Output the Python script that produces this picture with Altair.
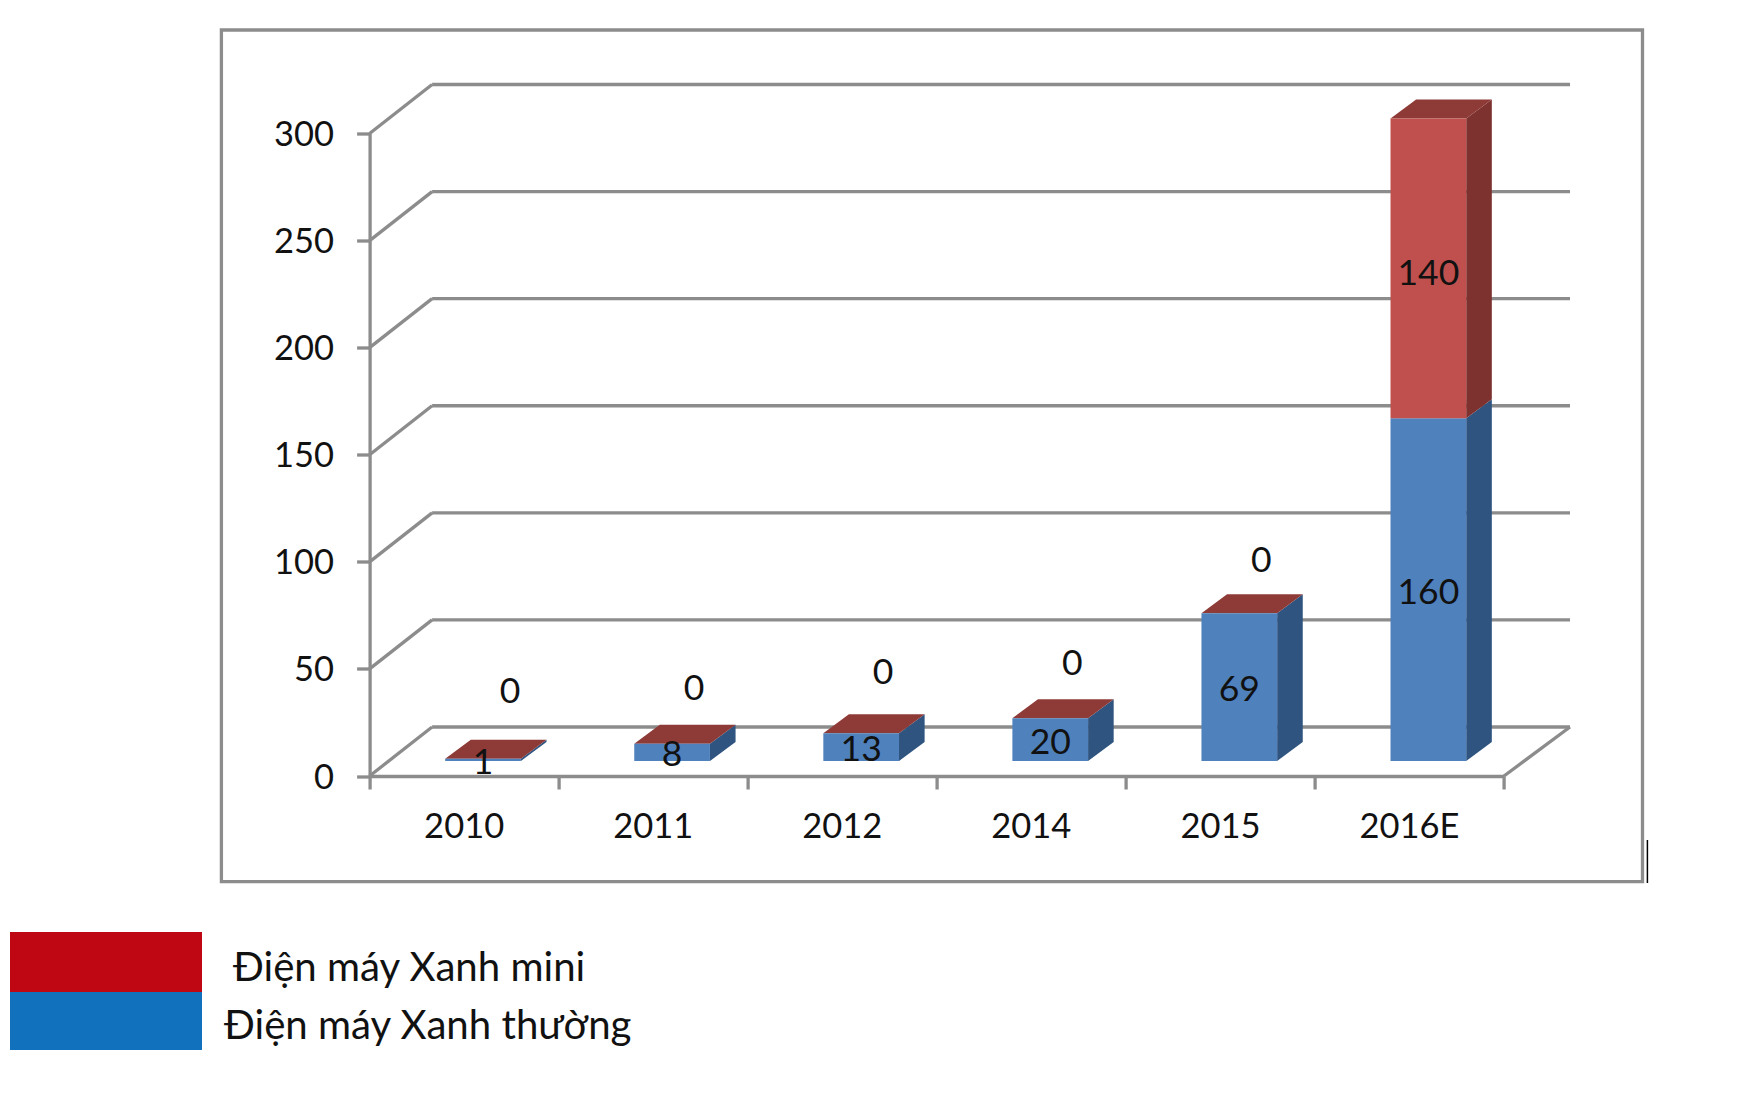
import altair as alt
import pandas as pd

# ---- data ----
categories = ["2010", "2011", "2012", "2014", "2015", "2016E"]
thuong = [1, 8, 13, 20, 69, 160]
mini = [0, 0, 0, 0, 0, 140]
y_ticks = [0, 50, 100, 150, 200, 250, 300]
legend_labels = ["Điện máy Xanh mini", "Điện máy Xanh thường"]

# ---- layout (page pixels) ----
PW, PH = 1134.4, 642.5
X0, Y0 = 369.6, 776.0          # page position of x=0, y=0
CAT = PW / 6
UNIT = PH / 300
def xd(px): return (px - X0) / CAT
def yd(px): return (Y0 - px) / UNIT

FONT = "Lato"
GREY = "#8c8c8c"
FS = 35.5
AXIS_FS = 34.5
LW = 3.3
BACK_DX_L, BACK_DX_R, BACK_DY = 62.5 / CAT, 66 / CAT, 49 / UNIT  # depth of the floor
FRONT_DX, FRONT_DY = 18.9 / CAT, 15 / UNIT # bar front inside floor
BAR_DX, BAR_DY = 25.6 / CAT, 19 / UNIT     # bar depth
BAR_HALF = 37.85 / CAT
# how far each empty "0" label floats above its bar (px), and sideways
zero_nudge_up = [70, 58, 63, 57, 55]
zero_nudge_x = [27, 22, 22, 22, 22]

SX = alt.Scale(domain=[0, 6], nice=False, zero=False)
SY = alt.Scale(domain=[0, 300], nice=False, zero=False)
label_expr = "datum.value < 6 ? " + str(categories) + "[datum.value] : ''"
AX = alt.Axis(values=list(range(7)), labelExpr=label_expr,
              labelOffset=CAT / 2 - 0.5, labelPadding=21, labelFontSize=AXIS_FS, labelFont=FONT,
              labelColor="#111", labelAlign="center", labelBaseline="top", labelFlush=False,
              labelOverlap=False, labelBound=False,
              domainColor=GREY, domainWidth=LW, tickColor=GREY, tickWidth=LW, tickSize=13, grid=False)
AY = alt.Axis(values=y_ticks, labelPadding=23, labelFontSize=AXIS_FS, labelFont=FONT, labelColor="#111",
              labelOffset=2,
              domainColor=GREY, domainWidth=LW, tickColor=GREY, tickWidth=LW, tickSize=13, grid=False,
              labelOverlap=False, labelBound=False, labelFlush=False)
def X(f="x", **k): return alt.X(f, type="quantitative", scale=SX, title=None, axis=AX, **k)
def Y(f="y", **k): return alt.Y(f, type="quantitative", scale=SY, title=None, axis=AY, **k)

# ---- frame + wall lines ----
frame = alt.Chart(pd.DataFrame([{
    "x": xd(221.4), "x2": xd(1642.5), "y": yd(30), "y2": yd(881.7)}])).mark_rect(
    fillOpacity=0, stroke=GREY, strokeWidth=LW).encode(
    x=X(), x2="x2:Q", y=Y(), y2="y2:Q")

segs = []
for v in y_ticks:
    segs.append({"x": 0, "x2": BACK_DX_L, "y": v, "y2": v + BACK_DY})
    segs.append({"x": BACK_DX_L, "x2": 6 + BACK_DX_R, "y": v + BACK_DY, "y2": v + BACK_DY})
segs.append({"x": 6, "x2": 6 + BACK_DX_R, "y": 0, "y2": BACK_DY})
walls = alt.Chart(pd.DataFrame(segs)).mark_rule(color=GREY, strokeWidth=LW).encode(
    x=X(), x2="x2:Q", y=Y(), y2="y2:Q")

# ---- bars ----
fronts, sides, tops, texts = [], [], [], []
for i, (a, b) in enumerate(zip(thuong, mini)):
    left = i + 0.5 + FRONT_DX - BAR_HALF
    right = i + 0.5 + FRONT_DX + BAR_HALF
    centre = i + 0.5 + FRONT_DX
    base = FRONT_DY
    parts = [(0, a, "#4f81bd", "#2f5480")]
    if b:
        parts.append((a, a + b, "#c0504d", "#7e322f"))
    for j, (lo, hi, c_front, c_side) in enumerate(parts):
        fronts.append({"x": left, "x2": right, "y": base + lo, "y2": base + hi, "c": c_front})
        sides.append({"id": f"{i}-{j}", "x": right, "y": base + lo, "y2": base + hi, "c": c_side})
        sides.append({"id": f"{i}-{j}", "x": right + BAR_DX, "y": base + lo + BAR_DY, "y2": base + hi + BAR_DY, "c": c_side})
    top = base + a + b
    tops.append({"id": str(i), "y": top, "x": left, "x2": right})
    tops.append({"id": str(i), "y": top + BAR_DY, "x": left + BAR_DX, "x2": right + BAR_DX})
    texts.append({"x": centre, "y": base + a / 2, "t": str(a)})
    if b:
        texts.append({"x": centre, "y": base + a + b / 2 - 1.4, "t": str(b)})
    else:
        texts.append({"x": centre + zero_nudge_x[i] / CAT, "y": top + zero_nudge_up[i] / UNIT, "t": str(b)})

front_l = alt.Chart(pd.DataFrame(fronts)).mark_rect().encode(
    x=X(), x2="x2:Q", y=Y(), y2="y2:Q", color=alt.Color("c:N", scale=None))
side_l = alt.Chart(pd.DataFrame(sides)).mark_area(orient="vertical", interpolate="linear").encode(
    x=X(), y=Y(stack=None), y2="y2:Q", detail="id:N", color=alt.Color("c:N", scale=None))
top_l = alt.Chart(pd.DataFrame(tops)).mark_area(orient="horizontal", interpolate="linear", color="#8e3a37").encode(
    y=Y(), x=X(stack=None), x2="x2:Q", detail="id:N")
text_l = alt.Chart(pd.DataFrame(texts)).mark_text(font=FONT, fontSize=FS, color="#111", align="center", baseline="middle", dy=3).encode(
    x=X(), y=Y(), text="t:N")

# ---- legend block under the frame ----
leg_rects = pd.DataFrame([
    {"x": xd(10), "x2": xd(202), "y": yd(932), "y2": yd(992), "c": "#be0712"},
    {"x": xd(10), "x2": xd(202), "y": yd(992), "y2": yd(1050), "c": "#1171bd"},
])
leg_r = alt.Chart(leg_rects).mark_rect().encode(
    x=X(), x2="x2:Q", y=Y(), y2="y2:Q", color=alt.Color("c:N", scale=None))
leg_texts = pd.DataFrame([
    {"x": xd(233), "y": yd(981), "t": legend_labels[0]},
    {"x": xd(224), "y": yd(1039), "t": legend_labels[1]},
])
leg_t = alt.Chart(leg_texts).mark_text(font=FONT, fontSize=40.2, color="#111", align="left", baseline="alphabetic").encode(
    x=X(), y=Y(), text="t:N")

# stray thin black line beside the frame
stray = alt.Chart(pd.DataFrame([{"x": xd(1647.4), "y": yd(840), "y2": yd(883)}])).mark_rule(color="black", strokeWidth=1.5).encode(
    x=X(), y=Y(), y2="y2:Q")

chart = alt.layer(frame, walls, side_l, top_l, front_l, text_l, leg_r, leg_t, stray).properties(
    width=PW, height=PH,
    autosize=alt.AutoSizeParams(type="none"),
    padding={"left": X0 - 8, "top": Y0 - PH - 8, "right": 1722 - (X0 - 8) - PW, "bottom": 300},
    background="white",
).configure_view(stroke=None)

chart.save("out.html", embed_options={"renderer": "svg", "actions": False})
